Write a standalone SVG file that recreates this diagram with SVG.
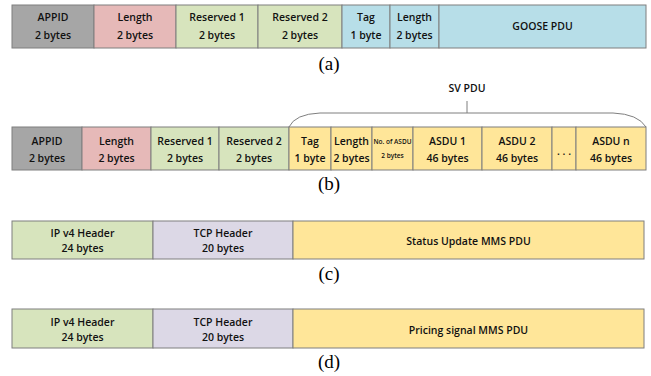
<svg xmlns="http://www.w3.org/2000/svg" width="651" height="376" viewBox="0 0 651 376">
<style>
.b{stroke:#7f7f7f;stroke-width:1}
.gray{fill:#a6a6a6}.pink{fill:#e6b9b8}.green{fill:#d7e4bd}.blue{fill:#b7dee8}.yel{fill:#ffe699}.lav{fill:#dcd8e6}
.t{font-family:"Open Sans","Liberation Sans",sans-serif;font-weight:600;font-size:10.5px;fill:#111;text-anchor:middle}
.s{font-size:6.5px}
.c{font-family:"Liberation Serif",serif;font-size:19px;fill:#000;text-anchor:middle}
</style>
<rect width="651" height="376" fill="#fff"/>
<g id="row-a">
<g id="a-appid"><rect class="b gray" x="12" y="5" width="82" height="43"/><text class="t" x="53" y="21">APPID</text><text class="t" x="53" y="39">2 bytes</text></g>
<g id="a-length"><rect class="b pink" x="94" y="5" width="82" height="43"/><text class="t" x="135" y="21">Length</text><text class="t" x="135" y="39">2 bytes</text></g>
<g id="a-res1"><rect class="b green" x="176" y="5" width="82" height="43"/><text class="t" x="217" y="21">Reserved 1</text><text class="t" x="217" y="39">2 bytes</text></g>
<g id="a-res2"><rect class="b green" x="258" y="5" width="84" height="43"/><text class="t" x="300" y="21">Reserved 2</text><text class="t" x="300" y="39">2 bytes</text></g>
<g id="a-tag"><rect class="b blue" x="342" y="5" width="48" height="43"/><text class="t" x="366" y="21">Tag</text><text class="t" x="366" y="39">1 byte</text></g>
<g id="a-len2"><rect class="b blue" x="390" y="5" width="49" height="43"/><text class="t" x="414.5" y="21">Length</text><text class="t" x="414.5" y="39">2 bytes</text></g>
<g id="a-goose"><rect class="b blue" x="439" y="5" width="207" height="43"/><text class="t" x="542.5" y="30">GOOSE PDU</text></g>
</g>
<text class="c" x="329" y="70">(a)</text>

<g id="row-b">
<g id="b-appid"><rect class="b gray" x="12" y="127" width="70" height="43"/><text class="t" x="47" y="144.5">APPID</text><text class="t" x="47" y="162">2 bytes</text></g>
<g id="b-length"><rect class="b pink" x="82" y="127" width="69" height="43"/><text class="t" x="116.5" y="144.5">Length</text><text class="t" x="116.5" y="162">2 bytes</text></g>
<g id="b-res1"><rect class="b green" x="151" y="127" width="68" height="43"/><text class="t" x="185" y="144.5">Reserved 1</text><text class="t" x="185" y="162">2 bytes</text></g>
<g id="b-res2"><rect class="b green" x="219" y="127" width="70" height="43"/><text class="t" x="254" y="144.5">Reserved 2</text><text class="t" x="254" y="162">2 bytes</text></g>
<g id="b-tag"><rect class="b yel" x="289" y="127" width="42" height="43"/><text class="t" x="310" y="144.5">Tag</text><text class="t" x="310" y="162">1 byte</text></g>
<g id="b-len2"><rect class="b yel" x="331" y="127" width="41" height="43"/><text class="t" x="351.5" y="144.5">Length</text><text class="t" x="351.5" y="162">2 bytes</text></g>
<g id="b-noasdu"><rect class="b yel" x="372" y="127" width="41" height="43"/><text class="t s" x="392.5" y="144">No. of ASDU</text><text class="t s" x="392.5" y="158">2 bytes</text></g>
<g id="b-asdu1"><rect class="b yel" x="413" y="127" width="69" height="43"/><text class="t" x="447.5" y="144.5">ASDU 1</text><text class="t" x="447.5" y="162">46 bytes</text></g>
<g id="b-asdu2"><rect class="b yel" x="482" y="127" width="70" height="43"/><text class="t" x="517" y="144.5">ASDU 2</text><text class="t" x="517" y="162">46 bytes</text></g>
<g id="b-dots"><rect class="b yel" x="552" y="127" width="24" height="43"/><text class="t" x="564" y="155">. . .</text></g>
<g id="b-asdun"><rect class="b yel" x="576" y="127" width="70" height="43"/><text class="t" x="611" y="144.5">ASDU n</text><text class="t" x="611" y="162">46 bytes</text></g>
<g id="b-svpdu"><text class="t" x="467" y="92">SV PDU</text></g>
</g>
<g id="connectors" fill="none" stroke="#7f7f7f" stroke-width="1">
<path d="M289,127 Q295,114 320,113 L613,113 Q638,114 646,127"/>
<line x1="467" y1="101" x2="467" y2="113"/>
</g>
<text class="c" x="329" y="190">(b)</text>

<g id="row-c">
<g id="c-ip"><rect class="b green" x="12" y="221" width="141" height="38"/><text class="t" x="82.5" y="236.5">IP v4 Header</text><text class="t" x="82.5" y="251.5">24 bytes</text></g>
<g id="c-tcp"><rect class="b lav" x="153" y="221" width="140" height="38"/><text class="t" x="223" y="236.5">TCP Header</text><text class="t" x="223" y="251.5">20 bytes</text></g>
<g id="c-mms"><rect class="b yel" x="293" y="221" width="351" height="38"/><text class="t" x="468.5" y="244.5">Status Update MMS PDU</text></g>
</g>
<text class="c" x="329" y="280">(c)</text>

<g id="row-d">
<g id="d-ip"><rect class="b green" x="12" y="309" width="141" height="39"/><text class="t" x="82.5" y="325.5">IP v4 Header</text><text class="t" x="82.5" y="340.5">24 bytes</text></g>
<g id="d-tcp"><rect class="b lav" x="153" y="309" width="140" height="39"/><text class="t" x="223" y="325.5">TCP Header</text><text class="t" x="223" y="340.5">20 bytes</text></g>
<g id="d-mms"><rect class="b yel" x="293" y="309" width="351" height="39"/><text class="t" x="468.5" y="333.5">Pricing signal MMS PDU</text></g>
</g>
<text class="c" x="329" y="368">(d)</text>
</svg>
